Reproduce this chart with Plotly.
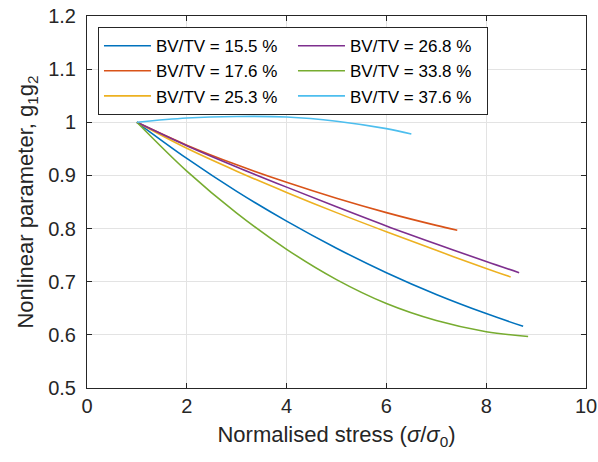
import plotly.graph_objects as go

labels = ["BV/TV = 15.5 %", "BV/TV = 17.6 %", "BV/TV = 25.3 %",
          "BV/TV = 26.8 %", "BV/TV = 33.8 %", "BV/TV = 37.6 %"]
legend_ranks = [1, 3, 5, 2, 4, 6]
colors = ["#0072BD", "#D95319", "#EDB120", "#7E2F8E", "#77AC30", "#4DBEEE"]

x_155 = [1, 2, 3, 4, 5, 6, 7, 8, 8.74]
y_155 = [1.0, 0.932, 0.870, 0.814, 0.763, 0.717, 0.676, 0.640, 0.616]

x_176 = [1, 2, 3, 4, 5, 6, 7, 7.42]
y_176 = [1.0, 0.957, 0.920, 0.887, 0.857, 0.830, 0.806, 0.797]

x_253 = [1, 2, 3, 4, 5, 6, 7, 8, 8.49]
y_253 = [1.0, 0.951, 0.908, 0.868, 0.830, 0.794, 0.759, 0.725, 0.709]

x_268 = [1, 2, 3, 4, 5, 6, 7, 8, 8.66]
y_268 = [1.0, 0.956, 0.916, 0.878, 0.841, 0.805, 0.771, 0.738, 0.717]

x_338 = [1, 2, 3, 4, 5, 6, 7, 8, 8.84]
y_338 = [1.0, 0.908, 0.829, 0.761, 0.704, 0.659, 0.627, 0.606, 0.597]

x_376 = [1, 2, 3, 4, 5, 6, 6.5]
y_376 = [1.0, 1.008, 1.011, 1.010, 1.002, 0.988, 0.978]

xs = [x_155, x_176, x_253, x_268, x_338, x_376]
ys = [y_155, y_176, y_253, y_268, y_338, y_376]

x_ticks = [0, 2, 4, 6, 8, 10]
y_ticks = [0.5, 0.6, 0.7, 0.8, 0.9, 1.0, 1.1, 1.2]
y_ticktext = ["0.5", "0.6", "0.7", "0.8", "0.9", "1", "1.1", "1.2"]

FONT = "Liberation Sans, Arial, sans-serif"
AX = "#262626"
GRID = "#e3e3e3"

fig = go.Figure()
for x, y, name, c, r in zip(xs, ys, labels, colors, legend_ranks):
    fig.add_trace(go.Scatter(x=x, y=y, mode="lines", name=name,
                             line=dict(color=c, width=1.6, shape="spline"),
                             legendrank=r))

axis_common = dict(showline=True, linecolor=AX, linewidth=1, mirror="ticks",
                   ticks="inside", ticklen=5, tickcolor=AX, tickwidth=1,
                   showgrid=True, gridcolor=GRID, gridwidth=1, zeroline=False,
                   automargin=False,
                   tickfont=dict(family=FONT, size=20, color=AX))

fig.update_xaxes(range=[0, 10], tickvals=x_ticks,
                 title=dict(text="Normalised stress (<i>σ</i>/<i>σ</i><sub>0</sub>)",
                            font=dict(family=FONT, size=22, color=AX), standoff=10),
                 **axis_common)
fig.update_yaxes(range=[0.5, 1.2], tickvals=y_ticks, ticktext=y_ticktext,
                 ticklabelstandoff=6,
                 title=dict(text="Nonlinear parameter, g<sub>1</sub>g<sub>2</sub>",
                            font=dict(family=FONT, size=22, color=AX), standoff=8),
                 **axis_common)

fig.update_layout(
    width=598, height=462,
    margin=dict(l=87, r=12, t=16, b=74),
    plot_bgcolor="white", paper_bgcolor="white",
    font=dict(family=FONT, color=AX),
    legend=dict(orientation="h", x=0.022, y=0.97, xanchor="left", yanchor="top",
                bgcolor="white", bordercolor=AX, borderwidth=1,
                font=dict(family=FONT, size=17, color="#000000"),
                itemwidth=47, entrywidth=132, entrywidthmode="pixels",
                traceorder="normal", tracegroupgap=0),
)

fig.write_html("out.html")
